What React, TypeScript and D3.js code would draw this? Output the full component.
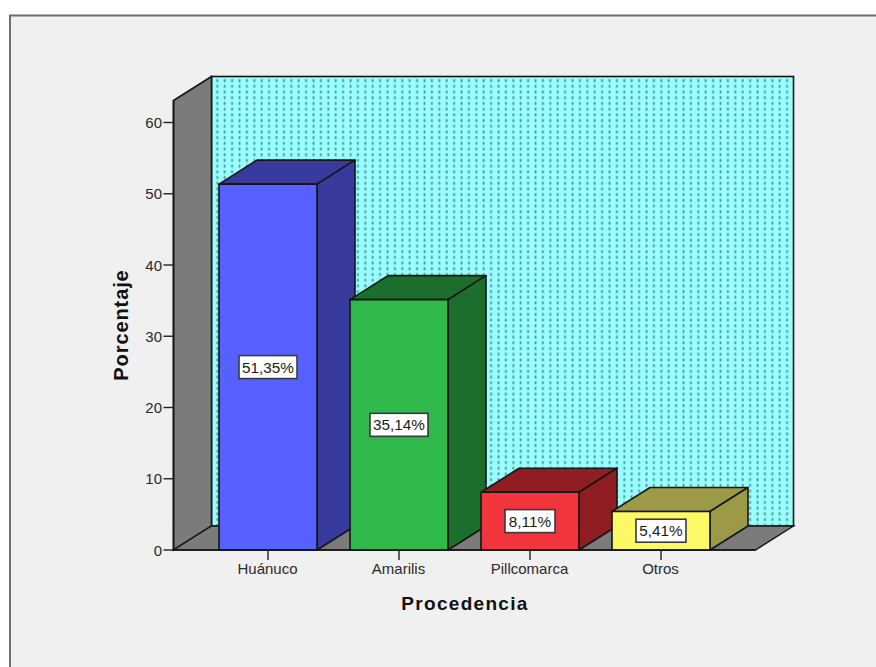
import React from "react";
import * as d3 from "d3";

const categories = ["Huánuco", "Amarilis", "Pillcomarca", "Otros"];
const percentages = [51.35, 35.14, 8.11, 5.41];
const valueLabels = ["51,35%", "35,14%", "8,11%", "5,41%"];
const frontColors = ["#5661ff", "#2fb84b", "#f2343c", "#fdf966"];
const sideColors = ["#383a9c", "#1c6e2d", "#901d22", "#9c9a46"];
const yTicks = [0, 10, 20, 30, 40, 50, 60];

const WIDTH = 876;
const HEIGHT = 667;
const DEPTH_X = 38;
const DEPTH_Y = -24;
const AXIS_LEFT = 173.5;
const AXIS_RIGHT = 755.5;
const FONT = "'Liberation Sans', Arial, sans-serif";
const STROKE = "#151515";

const y = d3.scaleLinear().domain([0, 60]).range([550, 122.5]);
const x = d3
  .scaleBand<string>()
  .domain(categories)
  .range([AXIS_LEFT, AXIS_RIGHT])
  .paddingInner(0.252)
  .paddingOuter(0.3475);

const poly = (pts: [number, number][]) => d3.line()(pts) + "Z";

export default function App() {
  const base = y(0);
  const wallTop = 76.5;
  const frontTop = wallTop - DEPTH_Y;
  return (
    <svg
      width={WIDTH}
      height={HEIGHT}
      style={{ position: "absolute", left: 0, top: 0, background: "#fff" }}
    >
      <defs>
        <pattern id="wallDots" width={7.4} height={5.7} patternUnits="userSpaceOnUse" x={214} y={78}>
          <rect width={7.4} height={5.7} fill="#99ffff" />
          <rect x={2.4} y={1.2} width={1.8} height={2.9} fill="#4f9293" />
        </pattern>
      </defs>

      {/* chart frame */}
      <rect x={10} y={15.5} width={WIDTH} height={HEIGHT} fill="#f0f0f0" stroke="#6e6e6e" strokeWidth={2} />

      {/* back wall, side wall and floor */}
      <rect
        x={AXIS_LEFT + DEPTH_X}
        y={wallTop}
        width={793.5 - AXIS_LEFT - DEPTH_X}
        height={base + DEPTH_Y - wallTop}
        fill="url(#wallDots)"
        stroke={STROKE}
        strokeWidth={1.6}
      />
      <path
        d={poly([
          [AXIS_LEFT, frontTop],
          [AXIS_LEFT + DEPTH_X, wallTop],
          [AXIS_LEFT + DEPTH_X, base + DEPTH_Y],
          [AXIS_LEFT, base],
        ])}
        fill="#7b7b7b"
        stroke={STROKE}
        strokeWidth={1.6}
      />
      <path
        d={poly([
          [AXIS_LEFT, base],
          [AXIS_LEFT + DEPTH_X, base + DEPTH_Y],
          [AXIS_RIGHT + DEPTH_X, base + DEPTH_Y],
          [AXIS_RIGHT, base],
        ])}
        fill="#7b7b7b"
        stroke={STROKE}
        strokeWidth={1.4}
      />

      {/* 3D bars */}
      {categories.map((c, i) => {
        const x0 = x(c)!;
        const x1 = x0 + x.bandwidth();
        const top = y(percentages[i]);
        return (
          <g key={c} stroke={STROKE} strokeWidth={1.6} strokeLinejoin="round">
            <path
              d={poly([
                [x0, top],
                [x0 + DEPTH_X, top + DEPTH_Y],
                [x1 + DEPTH_X, top + DEPTH_Y],
                [x1, top],
              ])}
              fill={sideColors[i]}
            />
            <path
              d={poly([
                [x1, top],
                [x1 + DEPTH_X, top + DEPTH_Y],
                [x1 + DEPTH_X, base + DEPTH_Y],
                [x1, base],
              ])}
              fill={sideColors[i]}
            />
            <rect x={x0} y={top} width={x.bandwidth()} height={base - top} fill={frontColors[i]} />
          </g>
        );
      })}

      {/* value labels */}
      {categories.map((c, i) => {
        const cx = x(c)! + x.bandwidth() / 2;
        const cy = (y(percentages[i]) + base) / 2;
        const w = valueLabels[i].length > 5 ? 58 : 50;
        return (
          <g key={c}>
            <rect x={cx - w / 2} y={cy - 11.5} width={w} height={23} fill="#fff" stroke="#3a3a3a" strokeWidth={1.6} />
            <text x={cx} y={cy + 5.5} textAnchor="middle" fontFamily={FONT} fontSize={15.3} fill="#1a1a1a">
              {valueLabels[i]}
            </text>
          </g>
        );
      })}

      {/* axes */}
      <line x1={AXIS_LEFT} x2={AXIS_LEFT} y1={frontTop} y2={base} stroke={STROKE} strokeWidth={1.6} />
      <line x1={AXIS_LEFT} x2={AXIS_RIGHT} y1={base} y2={base} stroke={STROKE} strokeWidth={1.6} />
      {yTicks.map((t) => (
        <g key={t}>
          <line x1={AXIS_LEFT - 10} x2={AXIS_LEFT} y1={y(t)} y2={y(t)} stroke="#222" strokeWidth={1.4} />
          <text
            x={AXIS_LEFT - 11.5}
            y={y(t) + 5.5}
            textAnchor="end"
            fontFamily={FONT}
            fontSize={15}
            fill="#2a2a2a"
          >
            {t}
          </text>
        </g>
      ))}
      {categories.map((c) => {
        const cx = x(c)! + x.bandwidth() / 2;
        return (
          <g key={c}>
            <line x1={cx} x2={cx} y1={base} y2={base + 10} stroke="#222" strokeWidth={1.4} />
            <text x={cx - 0.5} y={base + 23.5} textAnchor="middle" fontFamily={FONT} fontSize={15} fill="#2a2a2a">
              {c}
            </text>
          </g>
        );
      })}

      {/* axis titles */}
      <text
        x={465}
        y={610}
        textAnchor="middle"
        fontFamily={FONT}
        fontWeight="bold"
        fontSize={19}
        letterSpacing={1.3}
        fill="#111"
      >
        Procedencia
      </text>
      <text
        transform="translate(128,325) rotate(-90)"
        textAnchor="middle"
        fontFamily={FONT}
        fontWeight="bold"
        fontSize={20}
        letterSpacing={0.9}
        fill="#111"
      >
        Porcentaje
      </text>
    </svg>
  );
}
